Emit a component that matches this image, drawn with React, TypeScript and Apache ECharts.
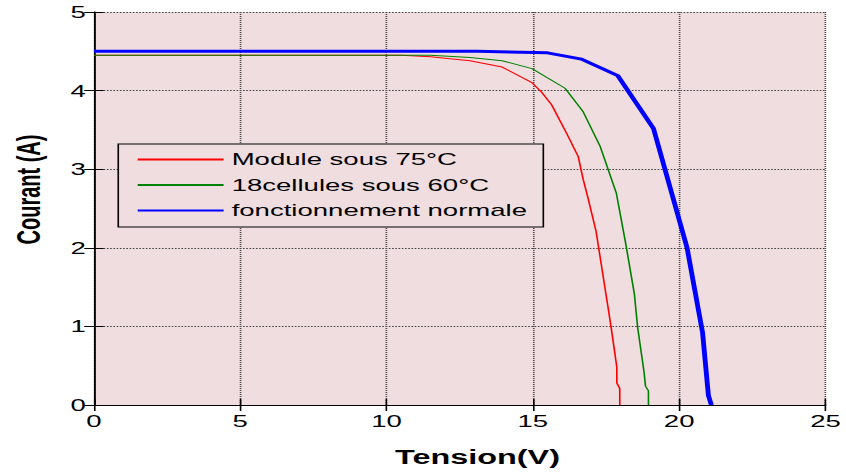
import React, { useEffect, useRef } from "react";
import * as echarts from "echarts";

// The reference figure is stretched horizontally; we render at a narrower width and stretch.
const STRETCH = 1.62;
const FULL_W = 846;
const FULL_H = 472;
const INNER_W = FULL_W / STRETCH;

const xTicks = [0, 5, 10, 15, 20, 25];
const yTicks = [0, 1, 2, 3, 4, 5];

const seriesNames = ["Module sous 75°C", "18cellules sous 60°C", "fonctionnement normale"];

const v75 = [0, 10.5, 11.5, 12.85, 13.95, 14.97, 15.3, 15.64, 16.15, 16.55, 16.72, 16.9, 17.16, 17.57, 17.67, 17.87, 17.87, 17.97, 17.97];
const i75 = [4.45, 4.45, 4.43, 4.38, 4.3, 4.1, 3.98, 3.82, 3.46, 3.16, 2.87, 2.61, 2.21, 1.24, 1.0, 0.48, 0.28, 0.21, 0];

const v60 = [0, 11.5, 12.85, 13.95, 14.97, 16.1, 16.72, 17.3, 17.85, 18.18, 18.47, 18.58, 18.8, 18.85, 18.95, 18.95];
const i60 = [4.45, 4.45, 4.42, 4.38, 4.28, 4.03, 3.73, 3.29, 2.7, 2.04, 1.41, 0.99, 0.42, 0.24, 0.18, 0];

const vNorm = [0, 13.1, 15.5, 16.66, 17.9, 19.12, 20.27, 20.8, 21.0, 21.1];
const iNorm = [4.5, 4.5, 4.48, 4.4, 4.19, 3.52, 2.0, 0.92, 0.12, 0];

const zip = (xs: number[], ys: number[]) => xs.map((x, k) => [x, ys[k]]);

const FONT = "'Liberation Sans', Arial, Helvetica, sans-serif";

export default function App() {
  const ref = useRef<HTMLDivElement>(null);

  useEffect(() => {
    if (!ref.current) return;
    const chart = echarts.init(ref.current, undefined, { renderer: "svg" });
    const axisLine = { show: true, lineStyle: { color: "#000", width: 1 } };
    const tick = { show: true, inside: true, length: 6, lineStyle: { color: "#000", width: 1 } };
    const grid = { show: true, lineStyle: { color: "#444", type: "dotted" as const, width: 1 } };
    chart.setOption({
      animation: false,
      backgroundColor: "#ffffff",
      grid: {
        left: 55.5,
        right: 9.4,
        top: 12,
        bottom: 66,
        show: true,
        backgroundColor: "#efdddf",
        borderWidth: 0,
      },
      legend: {
        show: true,
        orient: "vertical",
        left: 73,
        top: 144,
        itemWidth: 53,
        itemHeight: 12,
        itemGap: 8.5,
        padding: [7, 10, 8, 11],
        backgroundColor: "#efdddf",
        borderColor: "#000",
        borderWidth: 1,
        borderRadius: 0,
        selectedMode: false,
        itemStyle: { opacity: 0, color: "transparent", borderWidth: 0 },
        textStyle: { fontSize: 17, fontFamily: FONT, color: "#000", lineHeight: 17 },
        data: seriesNames,
      },
      xAxis: [
        {
          type: "value",
          min: 0,
          max: 25,
          interval: 5,
          position: "bottom",
          axisLine,
          axisTick: tick,
          splitLine: grid,
          axisLabel: { fontSize: 17, fontFamily: FONT, color: "#000", margin: 8 },
          name: "Tension(V)",
          nameLocation: "middle",
          nameGap: 42,
          nameTextStyle: {
            fontSize: 20,
            fontWeight: "bold",
            fontFamily: FONT,
            color: "#000",
            padding: [0, 0, 0, 22],
          },
        },
        {
          type: "value",
          min: 0,
          max: 25,
          interval: 5,
          position: "top",
          axisLine,
          axisTick: tick,
          splitLine: { show: false },
          axisLabel: { show: false },
        },
      ],
      yAxis: [
        {
          type: "value",
          min: 0,
          max: 5,
          interval: 1,
          position: "left",
          axisLine,
          axisTick: tick,
          splitLine: grid,
          axisLabel: { fontSize: 17, fontFamily: FONT, color: "#000", margin: 5 },
          name: "Courant (A)",
          nameLocation: "middle",
          nameGap: 30,
          nameTextStyle: {
            fontSize: 20,
            fontWeight: "bold",
            fontFamily: FONT,
            color: "#000",
            padding: [0, 0, 0, 38],
          },
        },
        {
          type: "value",
          min: 0,
          max: 5,
          interval: 1,
          position: "right",
          axisLine,
          axisTick: tick,
          splitLine: { show: false },
          axisLabel: { show: false },
        },
      ],
      series: [
        {
          name: seriesNames[0],
          type: "line",
          data: zip(v75, i75),
          symbol: "none",
          lineStyle: { color: "#ff0000", width: 1 },
          itemStyle: { color: "#ff0000" },
        },
        {
          name: seriesNames[1],
          type: "line",
          data: zip(v60, i60),
          symbol: "none",
          lineStyle: { color: "#008000", width: 1 },
          itemStyle: { color: "#008000" },
        },
        {
          name: seriesNames[2],
          type: "line",
          data: zip(vNorm, iNorm),
          symbol: "none",
          lineStyle: { color: "#0000ff", width: 3 },
          itemStyle: { color: "#0000ff" },
        },
      ],
    });
    return () => chart.dispose();
  }, []);

  return (
    <div
      style={{
        position: "fixed",
        left: 0,
        top: 0,
        width: FULL_W,
        height: FULL_H,
        overflow: "hidden",
        background: "#fff",
      }}
    >
      <div
        ref={ref}
        style={{
          width: INNER_W,
          height: FULL_H,
          transform: `scaleX(${STRETCH})`,
          transformOrigin: "0 0",
        }}
      />
    </div>
  );
}
